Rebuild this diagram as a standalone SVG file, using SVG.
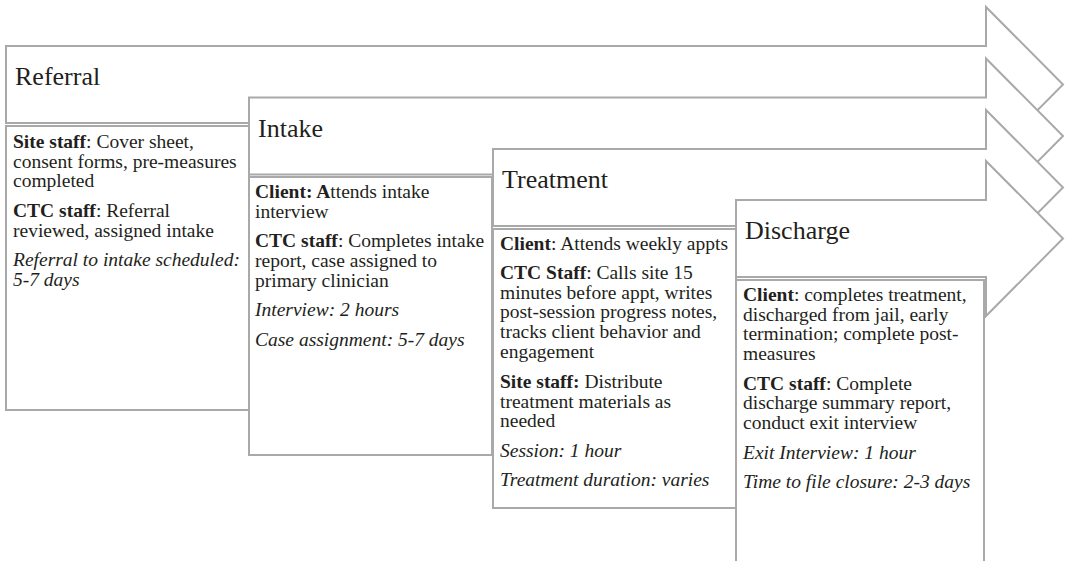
<svg xmlns="http://www.w3.org/2000/svg" width="1065" height="561" viewBox="0 0 1065 561">
<style>
.shape{fill:#ffffff;stroke:#a9a9a9;stroke-width:2;stroke-linejoin:miter}
text{font-family:"Liberation Serif","Times New Roman",serif;fill:#231f20}
.title{font-size:26px}
.body{font-size:19.5px}
.b{font-weight:bold}
.i{font-style:italic}
</style>
<rect x="0" y="0" width="1065" height="561" fill="#ffffff"/>
<g id="connectors"></g>
<g id="referral">
<path class="shape" d="M6,46 H986 V7 L1063,84.5 L986,162 V123 H6 Z"/>
<rect class="shape" x="6" y="126" width="243" height="284"/>
<text class="title" x="15" y="85">Referral</text>
<text class="body" x="13" y="148"><tspan class="b">Site staff</tspan>: Cover sheet,</text>
<text class="body" x="13" y="168">consent forms, pre-measures</text>
<text class="body" x="13" y="187">completed</text>
<text class="body" x="13" y="217"><tspan class="b">CTC staff</tspan>: Referral</text>
<text class="body" x="13" y="237">reviewed, assigned intake</text>
<text class="body i" x="13" y="266">Referral to intake scheduled:</text>
<text class="body i" x="13" y="286">5-7 days</text>
</g>
<g id="intake">
<path class="shape" d="M249,97.5 H986 V58.5 L1063,136 L986,213.5 V174.5 H249 Z"/>
<rect class="shape" x="249" y="177" width="243" height="278"/>
<text class="title" x="258" y="137">Intake</text>
<text class="body" x="255" y="198"><tspan class="b">Client: A</tspan>ttends intake</text>
<text class="body" x="255" y="218">interview</text>
<text class="body" x="255" y="247"><tspan class="b">CTC staff</tspan>: Completes intake</text>
<text class="body" x="255" y="267">report, case assigned to</text>
<text class="body" x="255" y="287">primary clinician</text>
<text class="body i" x="255" y="316">Interview: 2 hours</text>
<text class="body i" x="255" y="346">Case assignment: 5-7 days</text>
</g>
<g id="treatment">
<path class="shape" d="M493,149 H986 V110 L1063,187.5 L986,265 V226 H493 Z"/>
<rect class="shape" x="493" y="229" width="243" height="279"/>
<text class="title" x="502" y="188">Treatment</text>
<text class="body" x="500" y="250"><tspan class="b">Client</tspan>: Attends weekly appts</text>
<text class="body" x="500" y="279"><tspan class="b">CTC Staff</tspan>: Calls site 15</text>
<text class="body" x="500" y="299">minutes before appt, writes</text>
<text class="body" x="500" y="318">post-session progress notes,</text>
<text class="body" x="500" y="338">tracks client behavior and</text>
<text class="body" x="500" y="358">engagement</text>
<text class="body" x="500" y="388"><tspan class="b">Site staff:</tspan> Distribute</text>
<text class="body" x="500" y="408">treatment materials as</text>
<text class="body" x="500" y="427">needed</text>
<text class="body i" x="500" y="457">Session: 1 hour</text>
<text class="body i" x="500" y="486">Treatment duration: varies</text>
</g>
<g id="discharge">
<path class="shape" d="M736,200 H986 V161 L1063,238.5 L986,316 V277 H736 Z"/>
<rect class="shape" x="736" y="280" width="248" height="300"/>
<text class="title" x="745" y="239">Discharge</text>
<text class="body" x="743" y="301"><tspan class="b">Client</tspan>: completes treatment,</text>
<text class="body" x="743" y="321">discharged from jail, early</text>
<text class="body" x="743" y="340">termination; complete post-</text>
<text class="body" x="743" y="360">measures</text>
<text class="body" x="743" y="390"><tspan class="b">CTC staff</tspan>: Complete</text>
<text class="body" x="743" y="409">discharge summary report,</text>
<text class="body" x="743" y="429">conduct exit interview</text>
<text class="body i" x="743" y="459">Exit Interview: 1 hour</text>
<text class="body i" x="743" y="488">Time to file closure: 2-3 days</text>
</g>
</svg>
